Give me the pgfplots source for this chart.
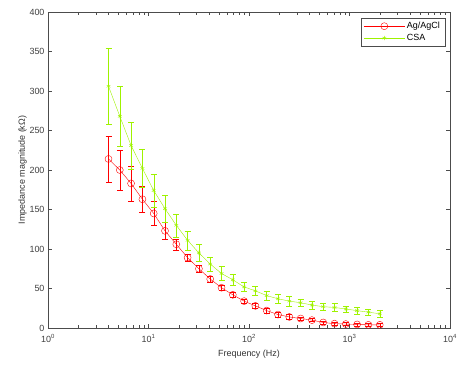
\documentclass[border=0pt]{standalone}
\usepackage{fontspec}
\setmainfont{Liberation Sans}
\usepackage{pgfplots}
\pgfplotsset{compat=1.18}
\usepackage{pgfplotstable}
\definecolor{mred}{rgb}{1,0,0}
\definecolor{mgreen}{rgb}{0.62,0.95,0.0}
\pgfplotstableread{
f r re c ce
4.00 214 29 306 48
5.18 200 25 268 38
6.71 183 22 231 30
8.70 163 17 202 24
11.27 145 15 174 21
14.60 123 10.5 151 17
18.91 106 7 130 14.5
24.50 89 5 111 12
31.74 75 4 95 10.5
41.12 62 4 81 9
53.27 51 3 69 9
69.01 42 3 61 7
89.40 34 3 52 6
115.8 28 3 47 6
150.0 22 3 41 6
194.4 17 3 37 6
251.8 14 3 34 6
326.2 12 2 32 5
422.6 10 2 29 5
547.5 7 2 27 5
709.3 5.5 2 26 5
918.9 5 2 24 4
1190 4.5 2 22 4
1542 4 2 20 4
2000 4 2 18 4
}\data
\begin{document}
\begin{tikzpicture}
\begin{axis}[
  xmode=log,
  scale only axis,
  width=402bp, height=316bp,
  xmin=1, xmax=10000,
  ymin=0, ymax=400,
  xtick={1,10,100,1000,10000},
  xticklabels={10\textsuperscript{0},10\textsuperscript{1},10\textsuperscript{2},10\textsuperscript{3},10\textsuperscript{4}},
  ytick={0,50,...,400},
  /pgf/number format/assume math mode=true,
  tick label style={font=\fontsize{9}{10}\selectfont, text=black!75},
  xticklabel style={yshift=-3bp},
  label style={font=\fontsize{9}{10}\selectfont, text=black!80},
  xlabel={Frequency (Hz)},
  ylabel={Impedance magnitude (kΩ)},
  xlabel style={yshift=-1bp},
  ylabel style={yshift=-4bp},
  tick align=inside,
  major tick length=4bp,
  minor tick length=2.5bp,
  axis line style={black!70},
  every tick/.style={black!70},
  legend style={at={(0.9876,0.981)}, anchor=north east, font=\fontsize{9}{11}\selectfont, draw=black!70, inner xsep=3bp, inner ysep=2bp, legend cell align=left},
  legend image code/.code={\draw[mark repeat=2,mark phase=2,#1] plot coordinates {(0cm,0cm) (0.72cm,0cm) (1.44cm,0cm)};},
]
\addplot[mred, thin, mark=o, mark size=3.5bp, mark options={solid},
  error bars/.cd, y dir=both, y explicit,
  error bar style={mred, thin},
  error mark options={rotate=90, mred, mark size=3bp}]
  table[x=f, y=r, y error=re] {\data};
\addlegendentry{Ag/AgCl}
\addplot[mgreen, thin, mark=asterisk, mark size=2.2bp, mark options={solid},
  error bars/.cd, y dir=both, y explicit,
  error bar style={mgreen, thin},
  error mark options={rotate=90, mgreen, mark size=3bp}]
  table[x=f, y=c, y error=ce] {\data};
\addlegendentry{CSA}
\end{axis}
\path (current axis.south west) ++(-48bp,-42bp) coordinate (bl);
\path (current axis.north east) ++(24bp,12bp) coordinate (tr);
\useasboundingbox (bl) rectangle (tr);
\end{tikzpicture}
\end{document}
